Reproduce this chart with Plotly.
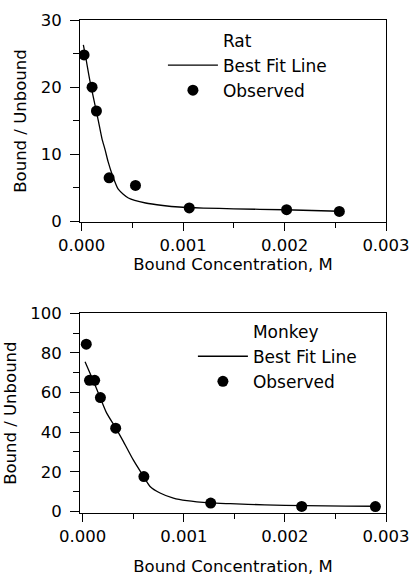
import plotly.graph_objects as go

# ---------------- data ----------------
rat_obs_x = [0.000023, 0.000102, 0.000145, 0.00027, 0.00053, 0.00106, 0.00202, 0.00254]
rat_obs_y = [24.8, 20.0, 16.45, 6.5, 5.36, 2.02, 1.76, 1.5]

rat_fit_x = [0.000016, 0.00004, 0.00008, 0.00013, 0.000165, 0.0002, 0.00023, 0.00026,
             0.0003, 0.00036, 0.00046, 0.00063, 0.0008, 0.00096, 0.0012, 0.0015, 0.002, 0.00254]
rat_fit_y = [26.3, 24.4, 21.0, 17.4, 14.9, 12.3, 10.7, 8.9,
             7.0, 4.8, 3.5, 2.75, 2.38, 2.15, 2.0, 1.88, 1.74, 1.52]

monkey_obs_x = [0.000035, 0.000067, 0.000118, 0.000175, 0.000326, 0.000605, 0.001266, 0.002166, 0.002895]
monkey_obs_y = [84.4, 66.2, 66.2, 57.5, 42.0, 17.6, 4.2, 2.5, 2.45]

monkey_fit_x = [0.000023, 0.0001, 0.00017, 0.000237, 0.000326, 0.0004, 0.0005, 0.0006,
                0.000666, 0.000765, 0.000897, 0.00103, 0.00126, 0.00146, 0.0018, 0.0022, 0.0026, 0.0029]
monkey_fit_y = [75.6, 66.5, 57.8, 49.6, 42.2, 35.5, 26.0, 17.8,
                12.6, 9.3, 6.7, 5.4, 4.3, 3.9, 3.3, 2.9, 2.7, 2.6]

x_tick_vals = [0.0, 0.001, 0.002, 0.003]
x_tick_text = ["0.000", "0.001", "0.002", "0.003"]
rat_y_ticks = [0, 10, 20, 30]
monkey_y_ticks = [0, 20, 40, 60, 80, 100]

x_title = "Bound Concentration, M"
y_title = "Bound / Unbound"

FONT = "DejaVu Sans"

fig = go.Figure()

# Rat panel
fig.add_trace(go.Scatter(x=[None], y=[None], mode="lines", name="Rat",
                         line=dict(color="rgba(0,0,0,0)", width=0),
                         xaxis="x", yaxis="y", legend="legend", hoverinfo="skip"))
fig.add_trace(go.Scatter(x=rat_fit_x, y=rat_fit_y, mode="lines", name="Best Fit Line",
                         line=dict(color="black", width=1.3, shape="spline", smoothing=0.6),
                         xaxis="x", yaxis="y", legend="legend"))
fig.add_trace(go.Scatter(x=rat_obs_x, y=rat_obs_y, mode="markers", name="Observed",
                         marker=dict(color="black", size=11),
                         xaxis="x", yaxis="y", legend="legend"))

# Monkey panel
fig.add_trace(go.Scatter(x=[None], y=[None], mode="lines", name="Monkey",
                         line=dict(color="rgba(0,0,0,0)", width=0),
                         xaxis="x2", yaxis="y2", legend="legend2", hoverinfo="skip"))
fig.add_trace(go.Scatter(x=monkey_fit_x, y=monkey_fit_y, mode="lines", name="Best Fit Line",
                         line=dict(color="black", width=1.3, shape="spline", smoothing=0.6),
                         xaxis="x2", yaxis="y2", legend="legend2"))
fig.add_trace(go.Scatter(x=monkey_obs_x, y=monkey_obs_y, mode="markers", name="Observed",
                         marker=dict(color="black", size=11),
                         xaxis="x2", yaxis="y2", legend="legend2"))

tickfont = dict(family=FONT, size=16.5, color="black")
titlefont = dict(family=FONT, size=16.5, color="black")

def xaxis(domain_anchor, rng, standoff):
    return dict(anchor=domain_anchor, domain=[0, 1], range=rng, automargin=False,
                tickvals=x_tick_vals, ticktext=x_tick_text,
                showline=True, linecolor="black", linewidth=1, mirror=True,
                ticks="outside", ticklen=8, tickwidth=1, tickcolor="black",
                minor=dict(ticks="outside", ticklen=5, dtick=0.0005, tick0=0,
                           tickcolor="black", tickwidth=1, showgrid=False),
                showgrid=False, zeroline=False, tickfont=tickfont,
                title=dict(text=x_title, font=titlefont, standoff=standoff))

def yaxis(domain_anchor, domain, rng, ticks, minor_dtick):
    return dict(anchor=domain_anchor, domain=domain, range=rng, automargin=False,
                tickvals=ticks, ticklabelstandoff=5,
                showline=True, linecolor="black", linewidth=1, mirror=True,
                ticks="outside", ticklen=9, tickwidth=1, tickcolor="black",
                minor=dict(ticks="outside", ticklen=6, dtick=minor_dtick, tick0=0,
                           tickcolor="black", tickwidth=1, showgrid=False),
                showgrid=False, zeroline=False, tickfont=tickfont,
                title=dict(text=y_title, font=titlefont, standoff=9))

legend_font = dict(family=FONT, size=17, color="black")

fig.update_layout(
    width=412, height=577,
    margin=dict(l=80, r=26, t=20, b=64),
    paper_bgcolor="white", plot_bgcolor="white",
    showlegend=True,
    xaxis=xaxis("y", [-0.000017, 0.003], 2),
    yaxis=yaxis("x", [0.59, 1.0], [-0.1, 30], rat_y_ticks, 5),
    xaxis2=xaxis("y2", [-0.000027, 0.003], 15),
    yaxis2=yaxis("x2", [0.0, 0.405], [-0.8, 100], monkey_y_ticks, 10),
    legend=dict(x=0.271, y=0.995, xanchor="left", yanchor="top", itemwidth=50,
                bgcolor="rgba(0,0,0,0)", borderwidth=0, font=legend_font,
                itemclick=False, itemdoubleclick=False),
    legend2=dict(x=0.369, y=0.4045, xanchor="left", yanchor="top", itemwidth=50,
                 bgcolor="rgba(0,0,0,0)", borderwidth=0, font=legend_font,
                 itemclick=False, itemdoubleclick=False),
)

# remove the default 8px page margin so the 412x577 figure fills the window exactly
fig.write_html(
    "out.html",
    config={"displayModeBar": False, "staticPlot": True},
    post_script=(
        "document.body.style.margin='0';"
        "document.body.style.overflow='hidden';"
        "document.documentElement.style.overflow='hidden';"
    ),
)
